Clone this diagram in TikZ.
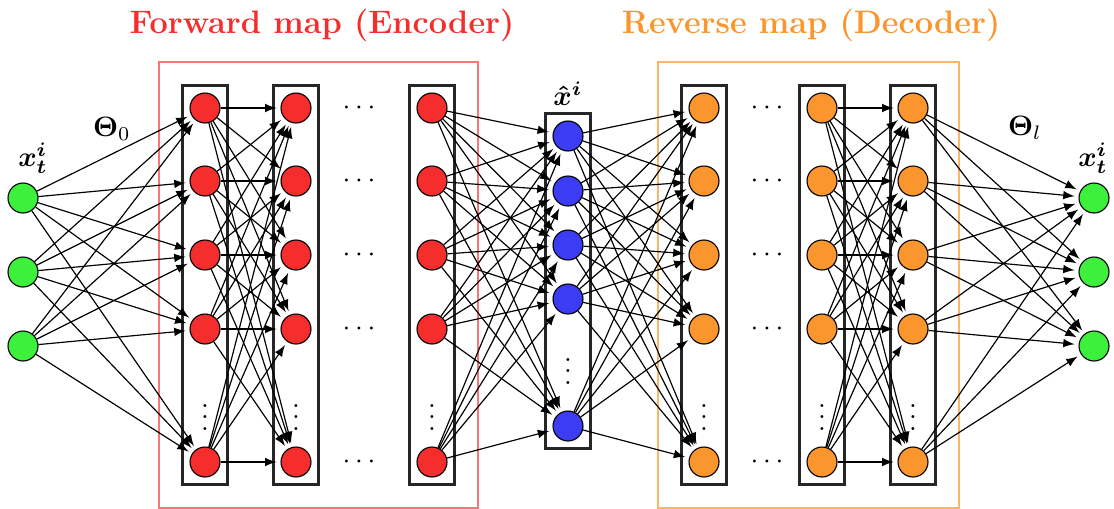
\documentclass[tikz,border=0pt]{standalone}
\usepackage{bm}
\usetikzlibrary{fit}

\definecolor{encred}{RGB}{245,45,45}
\definecolor{decorange}{RGB}{250,150,45}
\definecolor{latblue}{RGB}{60,60,245}
\definecolor{iogreen}{RGB}{60,240,60}

\begin{document}
\begin{tikzpicture}[x=.357pt, y=-.357pt,
	neuron/.style={circle, draw, thin, minimum size=10.7pt, inner sep=0pt},
	wire/.style={-latex, line width=.42pt, shorten >=1.4pt},
	layer/.style={draw=black!85, line width=.9pt, inner sep=2.5pt},
	frame/.style={line width=.8pt, inner sep=7.8pt},
	lab/.style={inner sep=0pt},
	title/.style={inner sep=0pt, font=\fontsize{11.6}{13}\selectfont\bfseries}]
	\useasboundingbox (0,0) rectangle (1114,508);
	\def\rowy{{0,108,181,255,329,462}}
	\def\laty{{0,136,191,245,299,426}}

	% input and output units
	\foreach \i/\y in {1/198,2/272,3/346}{
		\node[neuron, fill=iogreen] (i\i) at (23,\y) {};
		\node[neuron, fill=iogreen] (o\i) at (1094,\y) {};
	}

	% encoder / decoder layers
	\foreach \j in {1,...,5}{
		\pgfmathsetmacro{\y}{\rowy[\j]}
		\node[neuron, fill=encred] (a\j) at (205,\y) {};
		\node[neuron, fill=encred] (b\j) at (296,\y) {};
		\node[neuron, fill=encred] (c\j) at (432,\y) {};
		\node[neuron, fill=decorange] (d\j) at (704,\y) {};
		\node[neuron, fill=decorange] (e\j) at (822,\y) {};
		\node[neuron, fill=decorange] (f\j) at (913,\y) {};
		\node[lab] (ha\j) at (359,\y) {$\cdots$};
		\node[lab] (hd\j) at (767,\y) {$\cdots$};
		\pgfmathsetmacro{\yz}{\laty[\j]}
		\node[neuron, fill=latblue] (z\j) at (568,\yz) {};
	}

	\foreach \l/\x in {a/205,b/296,c/432,d/704,e/822,f/913}{
		\node[lab] (v\l) at (\x,409) {$\vdots$};
		\node[layer, fit=(\l1)(\l5)] (box\l) {};
	}
	\node[lab] (vz) at (568,363) {$\vdots$};
	\node[layer, fit=(z1)(z5)] (boxz) {};

	% encoder and decoder frames
	\node[frame, draw=encred!65, fit=(boxa)(boxc)] (enc) {};
	\node[frame, draw=decorange!70, fit=(boxd)(boxf)] (dec) {};
	\node[title, text=encred] (enctitle) at (322,25) {Forward map (Encoder)};
	\node[title, text=decorange] (dectitle) at (811,25) {Reverse map (Decoder)};

	% labels
	\node[lab] (xin) at (33,158) {$\bm{x_t^i}$};
	\node[lab] (xout) at (1093,158) {$\bm{x_t^i}$};
	\node[lab] (th0) at (112,129) {$\bm{\Theta}_0$};
	\node[lab] (thl) at (1025,128) {$\bm{\Theta}_l$};
	\node[lab] (xhat) at (568,94) {$\bm{\hat{x}^i}$};

	% weights
	\foreach \i in {1,2,3}{
		\foreach \j in {1,...,5}{
			\draw[wire] (i\i) -- (a\j);
			\draw[wire] (f\j) -- (o\i);
		}
	}
	\foreach \i in {1,...,5}{
		\foreach \j in {1,...,5}{
			\draw[wire] (a\i) -- (b\j);
			\draw[wire] (c\i) -- (z\j);
			\draw[wire] (z\i) -- (d\j);
			\draw[wire] (e\i) -- (f\j);
		}
	}
\end{tikzpicture}
\end{document}
